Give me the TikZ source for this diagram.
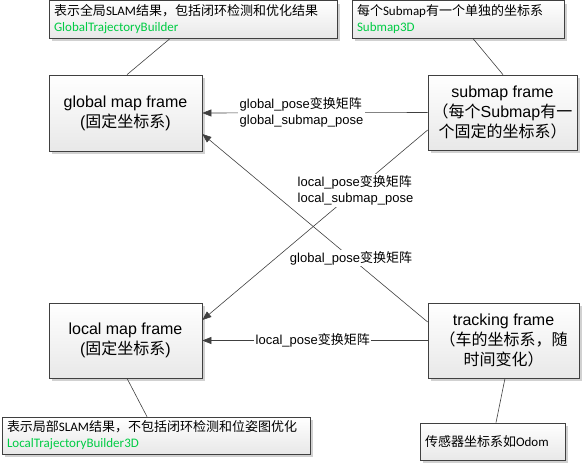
\documentclass[tikz,border=0pt]{standalone}
\usepackage{fontspec}
\setmainfont{Liberation Sans}
\newfontfamily\cjk{Noto Sans CJK SC}
\newfontfamily\notefont{Carlito}
\usetikzlibrary{arrows.meta,shadows,calc}
\definecolor{notegreen}{RGB}{0,204,68}
\definecolor{linegray}{RGB}{64,64,64}
\newcommand\zh[1]{{\cjk #1}}
\tikzset{
  boxbase/.style={draw=linegray, line width=0.7pt, top color=white, bottom color=black!9,
    drop shadow={shadow xshift=3pt, shadow yshift=-3pt, opacity=0.3, fill=black!60}},
  framebox/.style={boxbase, align=center, inner sep=0pt,
    font=\fontsize{16}{20}\selectfont},
  notebox/.style={boxbase, align=left, inner xsep=5pt, inner ysep=0pt,
    font=\notefont\fontsize{13}{16}\selectfont},
  conn/.style={draw=linegray, line width=0.6pt},
  arr/.style={conn, -{Triangle[length=9pt,width=7pt]}},
  elabel/.style={fill=white, inner sep=1.5pt, align=left,
    font=\fontsize{13}{16}\selectfont}
}
\begin{document}
\begin{tikzpicture}[x=1pt,y=-1pt]
\useasboundingbox (0,0) rectangle (582,464);
% frames
\node[framebox, minimum width=153pt, minimum height=76pt] (glob) at (125.5,113)
  {global map frame\\(\zh{固定坐标系})};
\node[framebox, minimum width=149pt, minimum height=75pt] (sub) at (502.5,112.5)
  {submap frame\\\zh{（每个}Submap\zh{有一}\\\zh{个固定的坐标系）}};
\node[framebox, minimum width=153pt, minimum height=75pt] (loc) at (125.5,340.5)
  {local map frame\\(\zh{固定坐标系})};
\node[framebox, minimum width=151pt, minimum height=75pt] (trk) at (503.5,340.5)
  {tracking frame\\\zh{（车的坐标系，随}\\\zh{时间变化）}};
% notes
\node[notebox, text width=278pt, minimum height=37.5pt] (n1) at (193,19.5)
  {\zh{表示全局}SLAM\zh{结果，包括闭环检测和优化结果}\\\textcolor{notegreen}{GlobalTrajectoryBuilder}};
\node[notebox, text width=202pt, minimum height=37.5pt] (n2) at (458,19.5)
  {\zh{每个}Submap\zh{有一个单独的坐标系}\\\textcolor{notegreen}{Submap3D}};
\node[notebox, text width=298pt, minimum height=37pt] (n3) at (156,435.5)
  {\zh{表示局部}SLAM\zh{结果，不包括闭环检测和位姿图优化}\\\textcolor{notegreen}{LocalTrajectoryBuilder3D}};
\node[notebox, text width=135pt, minimum height=37pt] (n4) at (492.5,441.5)
  {\zh{传感器坐标系如}Odom};
% note connectors
\draw[conn] ([xshift=-23pt]n1.south) -- ([xshift=1.5pt]glob.north);
\draw[conn] ([xshift=15pt]n2.south) -- ([xshift=0.5pt]sub.north);
\draw[conn] ([xshift=1.5pt]loc.south) -- ([xshift=-9pt]n3.north);
\draw[conn] ([xshift=1.5pt]trk.south) -- ([xshift=3.5pt]n4.north);
% transforms
\draw[arr] (sub.west) -- node[elabel, pos=0.56]
  {global\_pose\zh{变换矩阵}\\global\_submap\_pose} (glob.east);
\draw[arr] ([yshift=18.5pt]trk.west) -- node[elabel, pos=0.34]
  {global\_pose\zh{变换矩阵}} ([yshift=-21pt]glob.east);
\draw[arr] ([yshift=-17.5pt]sub.west) -- node[elabel, pos=0.32]
  {local\_pose\zh{变换矩阵}\\local\_submap\_pose} ([yshift=20.5pt]loc.east);
\draw[arr] (trk.west) -- node[elabel, pos=0.51]
  {local\_pose\zh{变换矩阵}} (loc.east);
\end{tikzpicture}
\end{document}
